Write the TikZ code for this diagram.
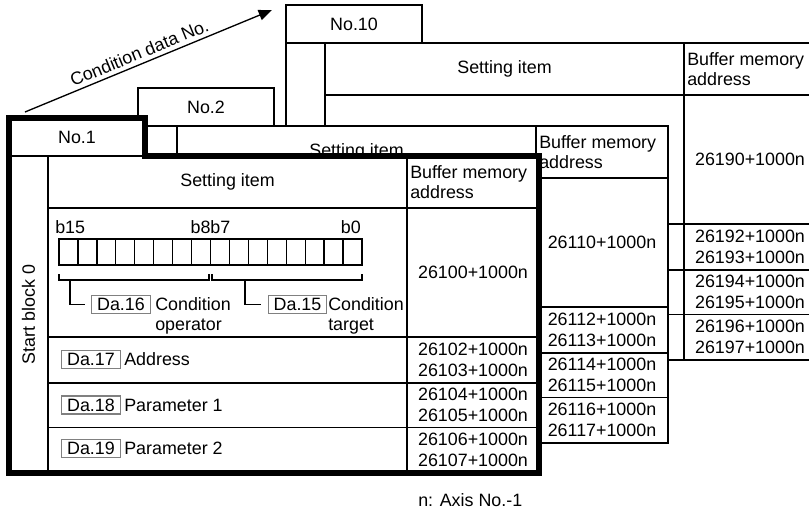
\documentclass[tikz,border=0pt]{standalone}
\usepackage{fontspec}
\setmainfont{Liberation Sans}
\usetikzlibrary{arrows.meta}

\begin{document}
\begin{tikzpicture}[
    x=0.75pt, y=-0.75pt,
    every node/.style={font=\fontsize{13.4}{15.5}\selectfont, inner sep=0pt},
    grid/.style={draw=black, line width=1pt},
    sheet/.style={grid, fill=white},
    outline/.style={draw=black, line width=5pt, line join=miter},
    item/.style={rectangle, draw=black!50, line width=0.8pt, fill=white,
                 inner xsep=4pt, minimum height=13.5pt},
    txt/.style={align=left},
    arrow/.style={-{Triangle[length=10pt, width=8pt]}, line width=1pt}
  ]
    \useasboundingbox (0,0) rectangle (809,511);

    % Condition data sheets, back to front (No.10, No.2, No.1)
    \foreach \dx/\dy/\no/\base in {277/-113/10/26190, 129/-30/2/26110, 0/0/1/26100} {
      \begin{scope}[shift={(9+\dx,118+\dy)}]
        \draw[sheet] (0,0) -- (136,0) -- (136,38) -- (530,38) -- (530,355) -- (0,355) -- cycle;
        \draw[grid] (0,38) -- (136,38);
        \draw[grid] (39,38) -- (39,355);
        \draw[grid] (398,38) -- (398,355);
        \draw[grid] (39,90) -- (530,90);
        \draw[grid] (39,219) -- (530,219);
        \draw[grid] (39,265) -- (530,265);
        \draw[grid] (39,309.5) -- (530,309.5);
        \node (tab\no) at (68,19) {No.\no};
        \node (set\no) at (218.5,64) {Setting item};
        \node[txt, anchor=west] (buf\no) at (401,64) {Buffer memory\\address};
        \node (adA\no) at (464,154.5) {\base+1000n};
        \node[align=center] (adB\no) at (464,242)
          {\the\numexpr\base+2\relax+1000n\\\the\numexpr\base+3\relax+1000n};
        \node[align=center] (adC\no) at (464,287)
          {\the\numexpr\base+4\relax+1000n\\\the\numexpr\base+5\relax+1000n};
        \node[align=center] (adD\no) at (464,332)
          {\the\numexpr\base+6\relax+1000n\\\the\numexpr\base+7\relax+1000n};
      \end{scope}
    }

    % Heavy frame of No.1
    \draw[outline] (9,118) -- (145,118) -- (145,156) -- (539,156) -- (539,473) -- (9,473) -- cycle;

    % Start block
    \node[rotate=90] (blk) at (28.5,314.5) {Start block 0};

    % Bit layout
    \node[anchor=west] (b15) at (55,227) {b15};
    \node (b8b7) at (210.5,227) {b8b7};
    \node[anchor=east] (b0) at (361,227) {b0};
    \draw[grid] (59,239) rectangle (362,265);
    \foreach \i in {1,...,15}
      \draw[grid] ({59+\i*18.9375},239) -- ++(0,26);
    \draw[grid] (59,274) |- (209,280) -- (209,274);
    \draw[grid] (212,274) |- (362,280) -- (362,274);
    \coordinate (hi) at (70,280);
    \coordinate (lo) at (245,280);

    % Bit fields
    \node[item] (da16) at (121,304.5) {Da.16};
    \node[txt, anchor=north west] (oper) at (155,297) {Condition\\operator};
    \node[item] (da15) at (297.5,304.5) {Da.15};
    \node[txt, anchor=north west] (targ) at (328,297) {Condition\\target};
    \draw[grid, shorten >=4.5pt] (hi) |- (da16);
    \draw[grid, shorten >=5pt] (lo) |- (da15);

    % Other items
    \node[item] (da17) at (91,359.5) {Da.17};
    \node[anchor=west, xshift=2.5pt] (addr) at (da17.east) {Address};
    \node[item] (da18) at (91,405) {Da.18};
    \node[anchor=west, xshift=2.5pt] (par1) at (da18.east) {Parameter 1};
    \node[item] (da19) at (91,448.5) {Da.19};
    \node[anchor=west, xshift=2.5pt] (par2) at (da19.east) {Parameter 2};

    % Condition data No. arrow
    \coordinate (cdS) at (25,112);
    \coordinate (cdE) at (272,10);
    \draw[arrow] (cdS) -- node[sloped, above=3pt, pos=0.48] (cdlab) {Condition data No.} (cdE);

    % Note
    \node[anchor=west] (axis) at (418,500) {n: Axis No.-1};

  \end{tikzpicture}
\end{document}
